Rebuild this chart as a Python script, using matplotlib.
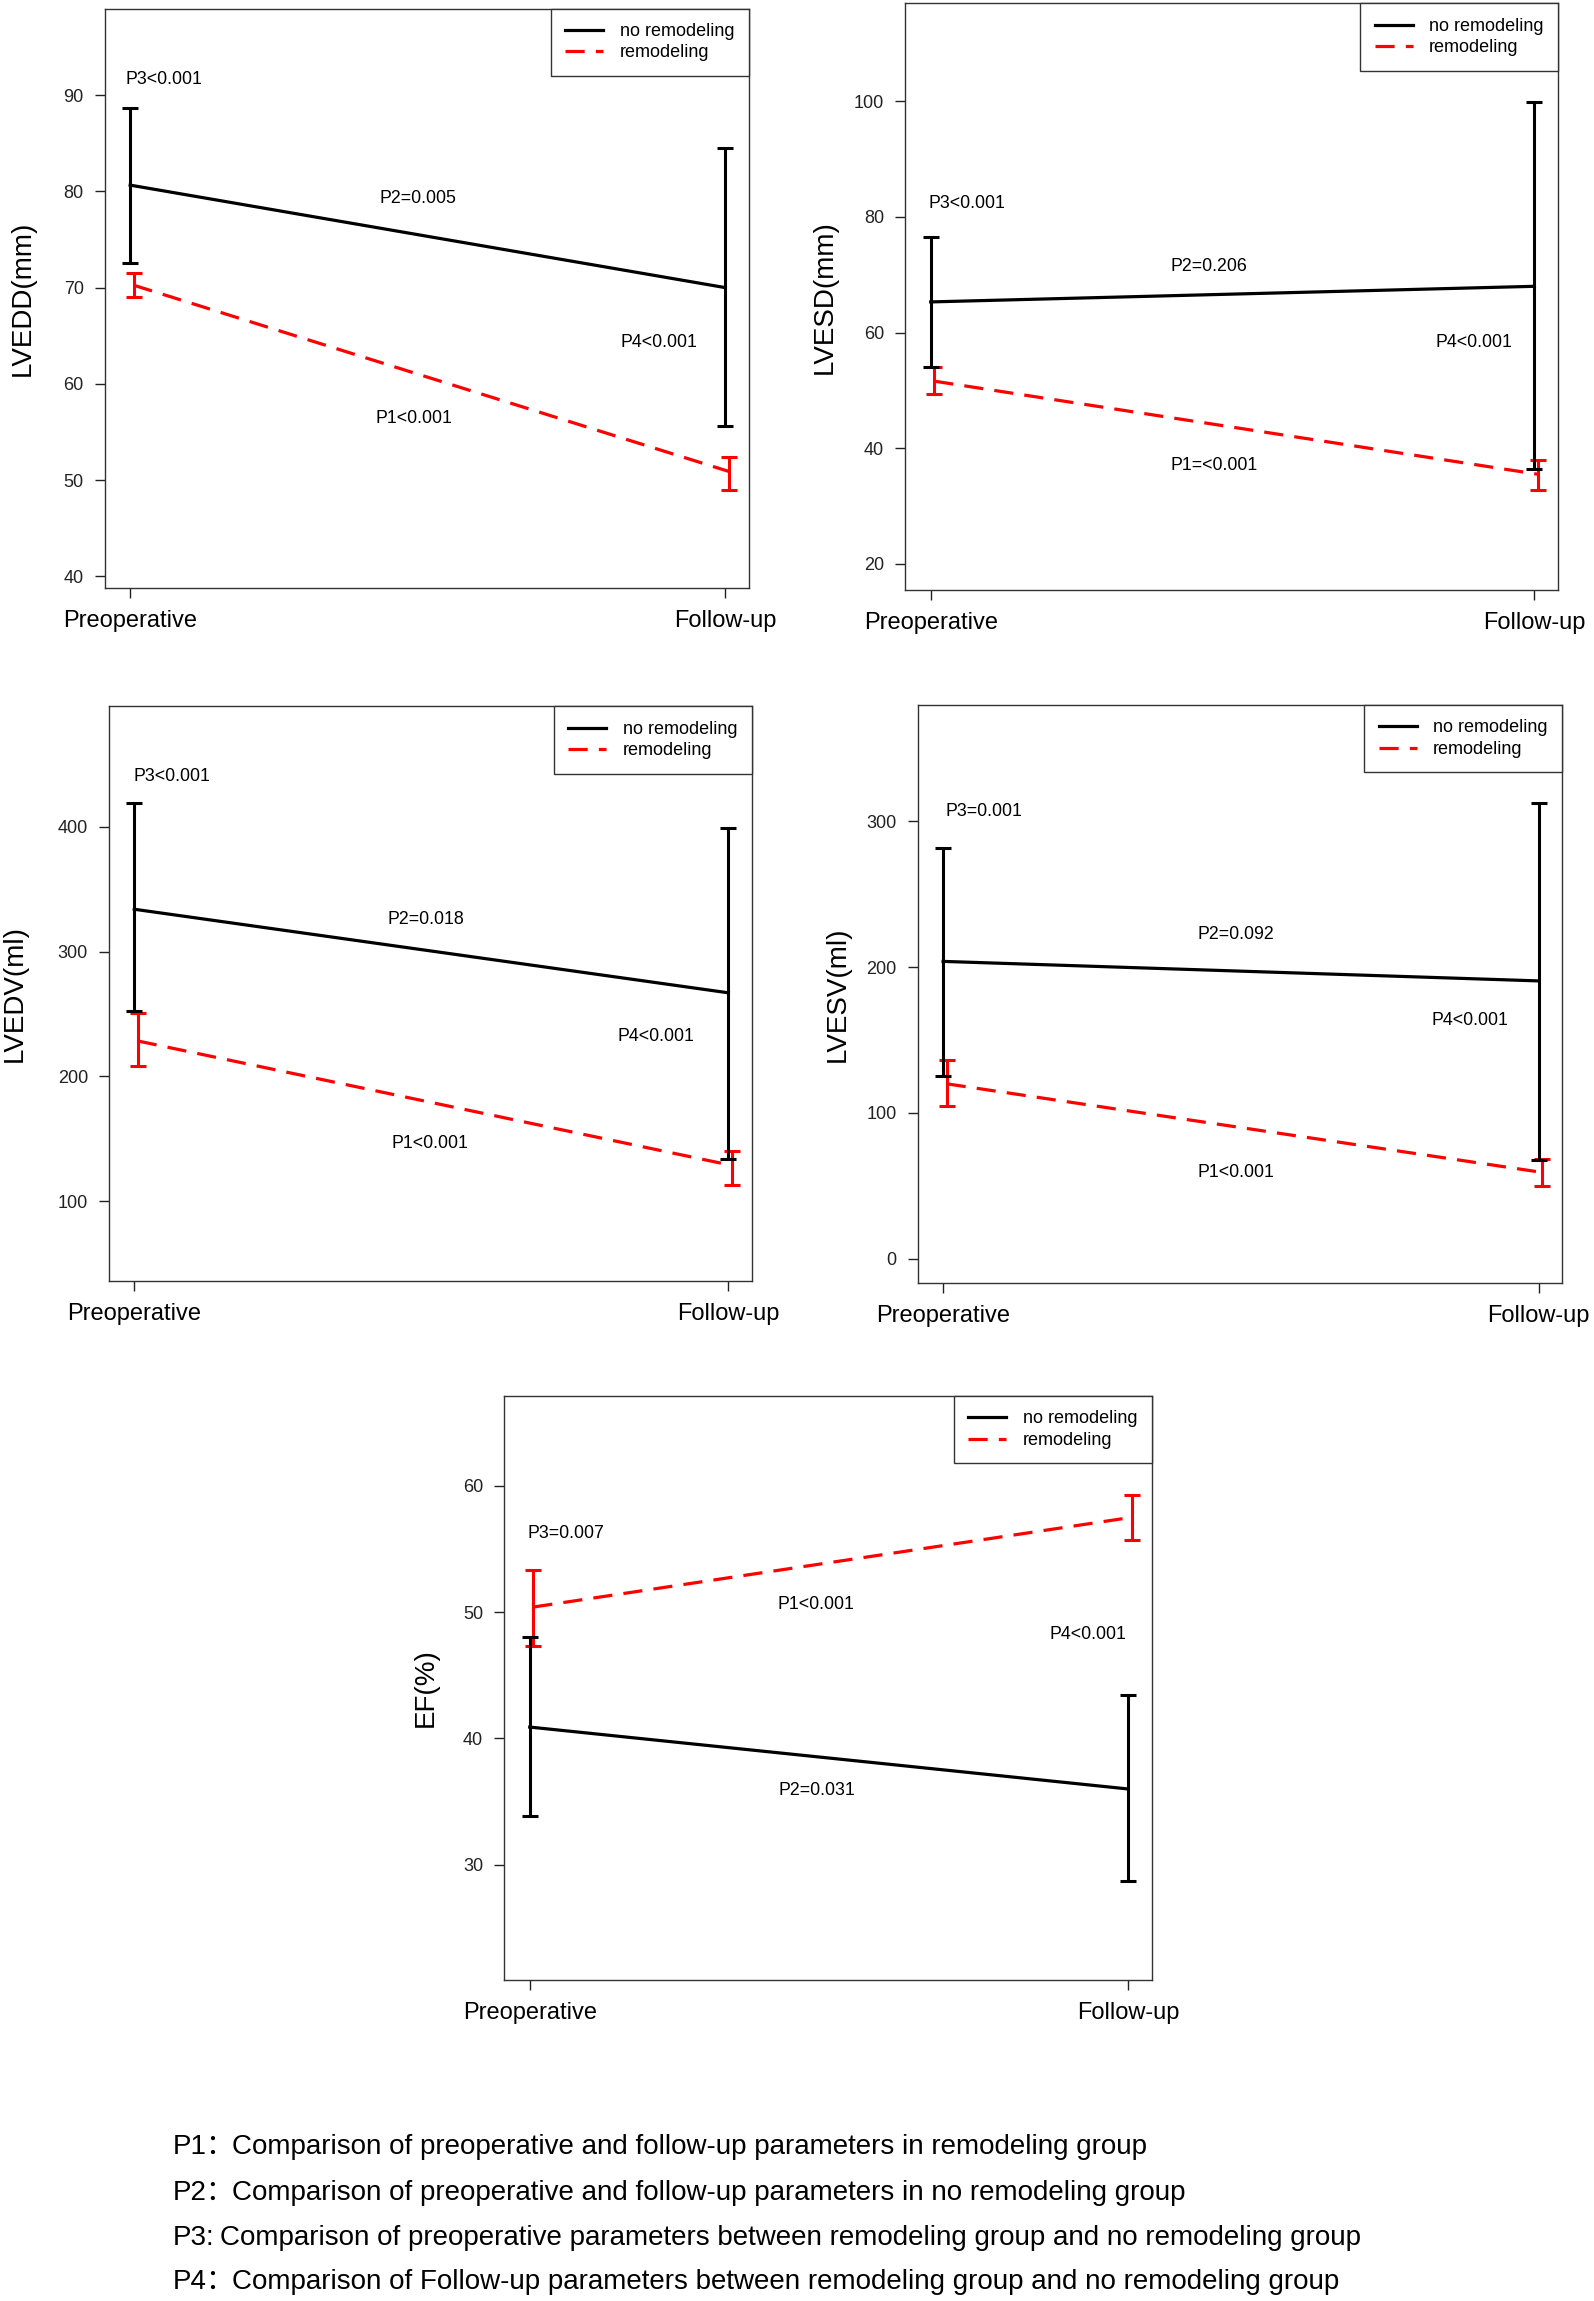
import numpy as np
import matplotlib.pyplot as plt
from matplotlib import font_manager

installed = {f.name for f in font_manager.fontManager.ttflist}
narrow = 'Liberation Sans Narrow' if 'Liberation Sans Narrow' in installed else 'Liberation Sans'
plt.rcParams['font.family'] = [narrow, 'DejaVu Sans']

timepoints = ["Preoperative", "Follow-up"]
groups = ["no remodeling", "remodeling"]

# mean, lower and upper end of the error bar, per group (pre, follow-up)
lvedd_no = [80.65, 70.0]
lvedd_no_lo = [72.6, 55.6]
lvedd_no_hi = [88.7, 84.5]
lvedd_re = [70.25, 50.9]
lvedd_re_lo = [69.05, 48.95]
lvedd_re_hi = [71.55, 52.45]

lvesd_no = [65.3, 68.0]
lvesd_no_lo = [54.0, 36.5]
lvesd_no_hi = [76.5, 99.8]
lvesd_re = [51.6, 35.5]
lvesd_re_lo = [49.3, 32.7]
lvesd_re_hi = [54.0, 38.0]

lvedv_no = [333.9, 266.9]
lvedv_no_lo = [252.1, 133.4]
lvedv_no_hi = [419.0, 399.0]
lvedv_re = [228.3, 128.5]
lvedv_re_lo = [208.6, 113.1]
lvedv_re_hi = [250.5, 140.0]

lvesv_no = [203.9, 190.5]
lvesv_no_lo = [125.5, 67.5]
lvesv_no_hi = [281.8, 312.6]
lvesv_re = [119.9, 59.1]
lvesv_re_lo = [105.0, 49.6]
lvesv_re_hi = [136.1, 68.1]

ef_no = [40.9, 36.0]
ef_no_lo = [33.9, 28.7]
ef_no_hi = [48.05, 43.4]
ef_re = [50.4, 57.5]
ef_re_lo = [47.3, 55.7]
ef_re_hi = [53.3, 59.3]

p_lvedd = ["P3<0.001", "P2=0.005", "P4<0.001", "P1<0.001"]
p_lvesd = ["P3<0.001", "P2=0.206", "P4<0.001", "P1=<0.001"]
p_lvedv = ["P3<0.001", "P2=0.018", "P4<0.001", "P1<0.001"]
p_lvesv = ["P3=0.001", "P2=0.092", "P4<0.001", "P1<0.001"]
p_ef = ["P3=0.007", "P1<0.001", "P4<0.001", "P2=0.031"]

footnotes = [
    ("P1\uff1a", "Comparison of preoperative and follow-up parameters in remodeling group"),
    ("P2\uff1a", "Comparison of preoperative and follow-up parameters in no remodeling group"),
    ("P3:", "Comparison of preoperative parameters between remodeling group and no remodeling group"),
    ("P4\uff1a", "Comparison of Follow-up parameters between remodeling group and no remodeling group"),
]

panels = [
    dict(rect=[0.0656, 0.7445, 0.404, 0.2518], ylabel="LVEDD(mm)", ylim=(38.8, 99.0),
         yticks=np.arange(40, 91, 10), labx=-0.1065,
         no=(lvedd_no, lvedd_no_lo, lvedd_no_hi), re=(lvedd_re, lvedd_re_lo, lvedd_re_hi),
         ptext=p_lvedd, ppos=[(1.056, 91.6), (1.484, 79.3), (1.889, 64.3), (1.476, 56.4)]),
    dict(rect=[0.5676, 0.7436, 0.4098, 0.2549], ylabel="LVESD(mm)", ylim=(15.5, 116.9),
         yticks=np.arange(20, 101, 20), labx=-0.102,
         no=(lvesd_no, lvesd_no_lo, lvesd_no_hi), re=(lvesd_re, lvesd_re_lo, lvesd_re_hi),
         ptext=p_lvesd, ppos=[(1.060, 82.4), (1.461, 71.5), (1.899, 58.2), (1.469, 37.1)]),
    dict(rect=[0.0682, 0.4433, 0.4033, 0.2497], ylabel="LVEDV(ml)", ylim=(35.9, 496.5),
         yticks=np.arange(100, 401, 100), labx=-0.1255,
         no=(lvedv_no, lvedv_no_lo, lvedv_no_hi), re=(lvedv_re, lvedv_re_lo, lvedv_re_hi),
         ptext=p_lvedv, ppos=[(1.064, 440.2), (1.491, 325.7), (1.878, 232.2), (1.497, 146.5)]),
    dict(rect=[0.5756, 0.4424, 0.4043, 0.2512], ylabel="LVESV(ml)", ylim=(-16.8, 379.8),
         yticks=np.arange(0, 301, 100), labx=-0.103,
         no=(lvesv_no, lvesv_no_lo, lvesv_no_hi), re=(lvesv_re, lvesv_re_lo, lvesv_re_hi),
         ptext=p_lvesv, ppos=[(1.069, 306.7), (1.492, 222.1), (1.884, 163.3), (1.492, 59.1)]),
    dict(rect=[0.3162, 0.1396, 0.4062, 0.2537], ylabel="EF(%)", ylim=(20.9, 67.1),
         yticks=np.arange(30, 61, 10), labx=-0.101,
         no=(ef_no, ef_no_lo, ef_no_hi), re=(ef_re, ef_re_lo, ef_re_hi),
         ptext=p_ef, ppos=[(1.061, 56.2), (1.479, 50.6), (1.932, 48.2), (1.479, 35.9)]),
]

fig = plt.figure(figsize=(15.94, 23.01), dpi=100)
x = np.array([1, 2])

for p in panels:
    ax = fig.add_axes(p["rect"])
    for key, color, ls, dx in [("re", "red", (0, (6, 3.5)), 0.006), ("no", "black", "-", 0.0)]:
        mean, lo, hi = (np.array(v) for v in p[key])
        xs = x + dx
        ax.plot(xs, mean, color=color, lw=2.3, linestyle=ls,
                label=groups[0] if key == "no" else groups[1])
        ax.errorbar(xs, mean, yerr=[mean - lo, hi - mean], fmt="none", ecolor=color,
                    elinewidth=2.2, capsize=5.5, capthick=2.2)
    ax.set_xlim(0.957, 2.039)
    ax.set_ylim(*p["ylim"])
    ax.set_xticks(x)
    ax.set_xticklabels(timepoints, fontsize=17)
    ax.set_yticks(p["yticks"])
    ax.tick_params(axis="y", labelsize=13, length=7, width=1, pad=8, colors="#222222")
    ax.tick_params(axis="x", length=7, width=1, pad=9, colors="#222222")
    for lab in ax.get_xticklabels():
        lab.set_color("black")
    ax.set_ylabel(p["ylabel"], fontsize=20, family=["Liberation Sans", "DejaVu Sans"])
    ax.yaxis.set_label_coords(p["labx"], 0.5)
    for s in ax.spines.values():
        s.set_linewidth(1.0)
        s.set_color("#333333")
    for txt, (tx, ty) in zip(p["ptext"], p["ppos"]):
        ax.text(tx, ty, txt, ha="center", va="center", fontsize=12.8)
    h, l = ax.get_legend_handles_labels()
    order = [l.index(groups[0]), l.index(groups[1])]
    leg = ax.legend([h[i] for i in order], [l[i] for i in order], loc="upper right",
                    bbox_to_anchor=(1, 1), borderaxespad=0, fancybox=False,
                    edgecolor="#333333", fontsize=13, handlelength=2.1,
                    handletextpad=0.9, labelspacing=0.25, borderpad=0.8,
                    framealpha=1)
    leg.get_frame().set_linewidth(1.0)

foot_y = [2147, 2193, 2238, 2282]
for (pre, body), yy in zip(footnotes, foot_y):
    fy = 1 - yy / 2301
    fig.text(173 / 1594, fy, pre, ha="left", va="center", fontsize=20,
             family=[narrow, "Noto Sans CJK SC", "DejaVu Sans"])
    bx = 220 if pre == "P3:" else 232
    fig.text(bx / 1594, fy, body, ha="left", va="center", fontsize=20,
             family=[narrow, "DejaVu Sans"])

fig.savefig("out.png", dpi=100)
